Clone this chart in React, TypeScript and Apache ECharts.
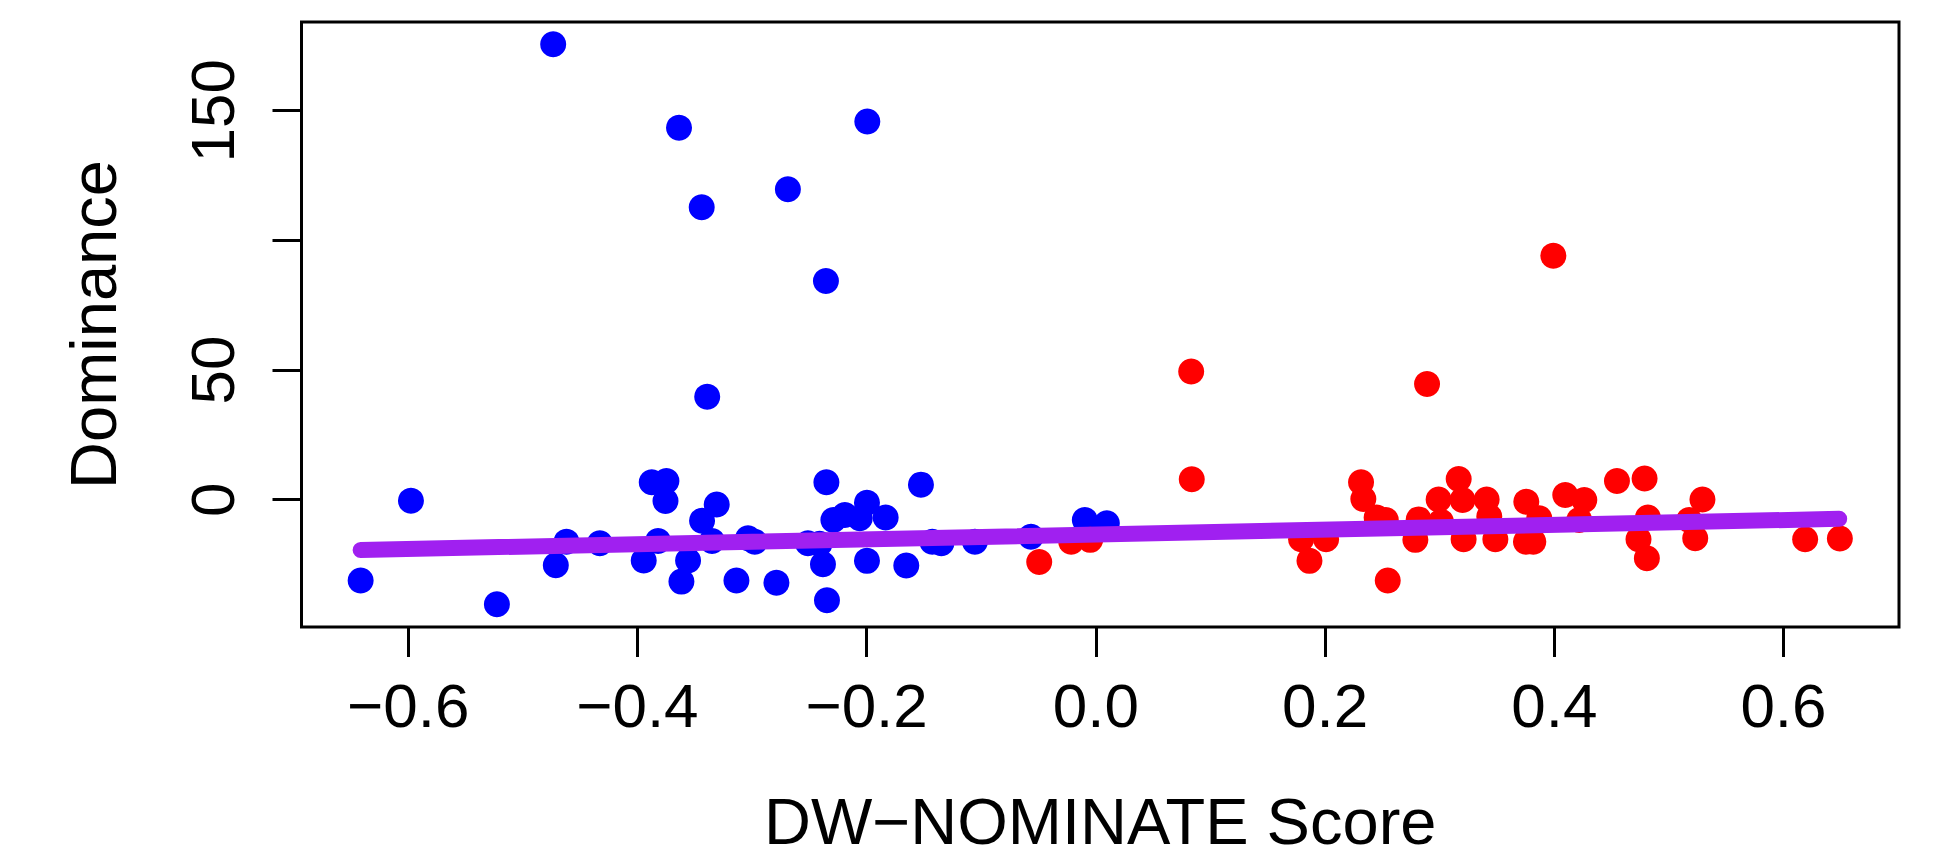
import React, { useEffect, useRef } from "react";
import * as echarts from "echarts";

// Democrats (blue): DW-NOMINATE score, dominance
const demX = [
  -0.4735, -0.3637, -0.1994, -0.2687, -0.3439, -0.2355, -0.3391,
  -0.6415, -0.5976, -0.5226, -0.4619, -0.4712, -0.4328, -0.3875, -0.3747,
  -0.3755, -0.3945, -0.382, -0.3308, -0.3436, -0.3558, -0.3616, -0.3349,
  -0.3136, -0.3035, -0.2976, -0.2787, -0.2351, -0.229, -0.219, -0.206,
  -0.2512, -0.241, -0.2381, -0.2346, -0.1997, -0.1834, -0.1526, -0.1997,
  -0.1654, -0.1427, -0.1348, -0.1055, -0.0566, -0.0096, 0.0096,
];
const demY = [
  175.6, 143.4, 145.8, 119.7, 112.8, 84.3, 39.7,
  -31.2, -0.4, -40.3, -16.2, -25.3, -16.8, 6.7, 7.2,
  -0.5, -23.5, -15.9, -1.9, -8.1, -23.5, -31.6, -15.9,
  -31.2, -14.9, -16.2, -32.0, 6.7, -7.8, -5.9, -7.2,
  -16.8, -17.0, -24.9, -38.8, -1.2, -6.9, 5.8, -23.6,
  -25.4, -16.2, -16.8, -16.2, -14.3, -7.8, -9.1,
];

// Republicans (red): DW-NOMINATE score, dominance
const repX = [
  0.3992, 0.0832, 0.289, 0.0837,
  -0.0494, -0.0215, -0.0049, 0.1791, 0.2009, 0.1864, 0.2314, 0.2334,
  0.245, 0.253, 0.2547, 0.2788, 0.2817, 0.2991, 0.3166, 0.32, 0.3012,
  0.3209, 0.341, 0.3433, 0.3486, 0.3756, 0.3869, 0.3753, 0.3817, 0.4096,
  0.4262, 0.4218, 0.4547, 0.4788, 0.4817, 0.4735, 0.4808, 0.5293, 0.5177,
  0.523, 0.6189, 0.6492,
];
const repY = [
  94.1, 49.4, 44.6, 7.9,
  -24.0, -16.2, -15.5, -15.3, -15.3, -23.6, 6.7, 0.3,
  -6.9, -7.8, -31.2, -15.5, -7.6, 0.1, 8.0, -0.1, -8.5,
  -15.3, 0.1, -6.5, -15.3, -0.8, -7.2, -16.2, -16.2, 1.8,
  -0.1, -7.8, 7.2, 8.2, -6.9, -15.3, -22.6, 0.1, -7.8,
  -14.9, -15.3, -15.0,
];

// Fitted line endpoints
const fitX = [-0.6415, 0.6486];
const fitY = [-19.4, -7.4];

const xTicks = [-0.6, -0.4, -0.2, 0.0, 0.2, 0.4, 0.6];
const yTicks = [0, 50, 100, 150];
const yTickLabels = [0, 50, 150];

const FONT = "'Liberation Sans', Arial, Helvetica, sans-serif";

export default function App() {
  const ref = useRef<HTMLDivElement>(null);

  useEffect(() => {
    if (!ref.current) return;
    const chart = echarts.init(ref.current, undefined, { renderer: "svg" });
    const dem = demX.map((x, i) => [x, demY[i]]);
    const rep = repX.map((x, i) => [x, repY[i]]);
    const fit = fitX.map((x, i) => [x, fitY[i]]);
    chart.setOption({
      animation: false,
      backgroundColor: "#ffffff",
      grid: {
        left: 301.5,
        top: 22,
        width: 1597.5,
        height: 605,
        containLabel: false,
        outerBoundsMode: "none",
        show: true,
        borderColor: "#000",
        borderWidth: 3,
        backgroundColor: "transparent",
      },
      xAxis: {
        type: "value",
        min: -0.6931,
        max: 0.7008,
        splitLine: { show: false },
        axisLine: { show: false, onZero: false },
        axisTick: {
          show: true,
          customValues: xTicks,
          length: 30,
          lineStyle: { color: "#000", width: 3 },
        },
        axisLabel: {
          customValues: xTicks,
          formatter: (v: number) => v.toFixed(1).replace("-", "\u2212"),
          fontSize: 62,
          color: "#000",
          fontFamily: FONT,
          margin: 47,
        },
        name: "DW\u2212NOMINATE Score",
        nameLocation: "middle",
        nameGap: 162,
        nameTextStyle: { fontSize: 65, color: "#000", fontFamily: FONT },
      },
      yAxis: {
        type: "value",
        min: -49.1,
        max: 184.2,
        splitLine: { show: false },
        axisLine: { show: false, onZero: false },
        axisTick: {
          show: true,
          customValues: yTicks,
          length: 29,
          lineStyle: { color: "#000", width: 3 },
        },
        axisLabel: {
          customValues: yTickLabels,
          rotate: 90,
          fontSize: 62,
          color: "#000",
          fontFamily: FONT,
          margin: 58,
        },
        name: "Dominance",
        nameLocation: "middle",
        nameGap: 176,
        nameTextStyle: { fontSize: 65, color: "#000", fontFamily: FONT },
      },
      series: [
        {
          type: "scatter",
          data: dem,
          symbol: "circle",
          symbolSize: 26,
          itemStyle: { color: "#0000FF", opacity: 1 },
          z: 2,
        },
        {
          type: "scatter",
          data: rep,
          symbol: "circle",
          symbolSize: 26,
          itemStyle: { color: "#FF0000", opacity: 1 },
          z: 3,
        },
        {
          type: "line",
          data: fit,
          symbol: "none",
          lineStyle: { color: "#A020F0", width: 16, cap: "round" },
          z: 4,
        },
      ],
    });
    return () => chart.dispose();
  }, []);

  return (
    <div
      ref={ref}
      style={{ position: "absolute", left: 0, top: 0, width: 1949, height: 866, background: "#fff" }}
    />
  );
}
